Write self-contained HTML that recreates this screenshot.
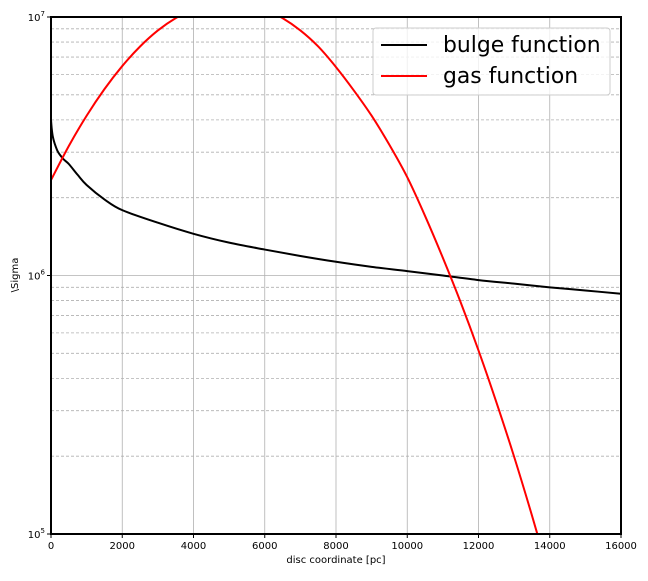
<!DOCTYPE html>
<html><head><meta charset="utf-8"><style>
body{margin:0;background:#fff;font-family:"Liberation Sans","DejaVu Sans",sans-serif}
svg text{font-family:"DejaVu Sans","Liberation Sans",sans-serif}
</style></head><body>
<svg id="chart" width="648" height="576">
<defs><clipPath id="clip"><rect x="51" y="17" width="570" height="517"/></clipPath></defs>
<g id="grid"></g>
<g id="series" clip-path="url(#clip)"></g>
<rect x="51" y="17" width="570" height="517" fill="none" stroke="#000" stroke-width="2"/>
<g id="axes"></g>
<text x="336" y="563" font-size="10" text-anchor="middle">disc coordinate [pc]</text>
<text transform="translate(18,275) rotate(-90)" font-size="10" text-anchor="middle">\Sigma</text>
<g>
<rect x="373" y="28" width="237" height="67" rx="3" fill="#fff" fill-opacity="0.8" stroke="#ccc"/>
<line x1="381" y1="45" x2="427" y2="45" stroke="#000" stroke-width="2"/>
<text x="443" y="52" font-size="21.9">bulge function</text>
<line x1="381" y1="76" x2="427" y2="76" stroke="red" stroke-width="2"/>
<text x="443" y="83" font-size="21.9">gas function</text>
</g>
</svg>
<script>
const xTicks=[0,2000,4000,6000,8000,10000,12000,14000,16000];
const bulgeX=[0,20,50,100,200,350,500,750,1000,1500,2000,3000,4000,5000,6000,7000,8000,9000,10000,11000,12000,13000,14000,15000,16000];
const bulgeY=[4.0e6,3.7e6,3.45e6,3.25e6,3.0e6,2.82e6,2.7e6,2.45e6,2.24e6,1.97e6,1.79e6,1.6e6,1.45e6,1.34e6,1.26e6,1.19e6,1.13e6,1.08e6,1.04e6,1.0e6,0.96e6,0.93e6,0.9e6,0.875e6,0.85e6];
const gasX=[0,500,1000,1500,2000,2500,3000,3500,4000,4500,5000,5500,6000,6500,7000,7500,8000,8500,9000,9500,10000,10500,11000,11500,12000,12500,13000,13500,14000];
const gasY=[2.34e6,3.17e6,4.15e6,5.26e6,6.46e6,7.69e6,8.87e6,9.9e6,1.07e7,1.12e7,1.14e7,1.12e7,1.07e7,9.9e6,8.87e6,7.69e6,6.4e6,5.2e6,4.15e6,3.2e6,2.4e6,1.7e6,1.17e6,7.87e5,5.13e5,3.24e5,1.99e5,1.18e5,6.8e4];
const L=51,R=621,T=17,B=534;
const sx=v=>L+(v/16000)*(R-L);
const sy=v=>T+(7-Math.log10(v))/2*(B-T);
const NS="http://www.w3.org/2000/svg";
function mk(tag,attrs,parent){const e=document.createElementNS(NS,tag);for(const k in attrs)e.setAttribute(k,attrs[k]);parent.appendChild(e);return e;}
const grid=document.getElementById('grid'),axes=document.getElementById('axes'),series=document.getElementById('series');
xTicks.forEach(t=>{
 const g=mk('line',{x1:sx(t),x2:sx(t),y1:T,y2:B,stroke:'#b0b0b0','stroke-width':0.8},grid);
 
 
 const tk=mk('line',{x1:sx(t),x2:sx(t),y1:B,y2:B+4,stroke:'#000'},axes);
 
 
 const tx=mk('text',{x:sx(t),y:B+15,'font-size':10,'text-anchor':'middle'},axes);
 tx.textContent=t;
 
 
});
[5,6].forEach(d=>{for(let m=1;m<10;m++){const v=m*Math.pow(10,d);const y=sy(v);
 if(m===1&&d===5)continue;
 const g=mk('line',{x1:L,x2:R,y1:y,y2:y,stroke:'#b0b0b0','stroke-width':0.8,'stroke-dasharray':m===1?'':'3,2'},grid);
 
 }});
[[5,B],[6,sy(1e6)],[7,T]].forEach(([d,y])=>{
 const tk=mk('line',{x1:L-4,x2:L,y1:y,y2:y,stroke:'#000'},axes);
 
 
 const tx=mk('text',{x:L-6,y:y+4,'font-size':10,'text-anchor':'end'},axes);
 tx.innerHTML='10<tspan dy="-5" font-size="7">'+d+'</tspan>';
 
 
});
function line(xs,ys,color,name){
 const pts=xs.map((x,i)=>[sx(x),sy(ys[i])]);
 let d='M'+pts[0][0]+','+pts[0][1];
 for(let i=0;i<pts.length-1;i++){
  const p0=pts[Math.max(0,i-1)],p1=pts[i],p2=pts[i+1],p3=pts[Math.min(pts.length-1,i+2)];
  const c1x=p1[0]+(p2[0]-p0[0])/6,c1y=p1[1]+(p2[1]-p0[1])/6,c2x=p2[0]-(p3[0]-p1[0])/6,c2y=p2[1]-(p3[1]-p1[1])/6;
  d+=' C'+c1x+','+c1y+' '+c2x+','+c2y+' '+p2[0]+','+p2[1];
 }
 const p=mk('path',{d:d,fill:'none',stroke:color,'stroke-width':2,'stroke-linejoin':'round'},series);
 
 }
line(bulgeX,bulgeY,'#000','bulge-line');
line(gasX,gasY,'red','gas-line');
</script>
</body></html>
